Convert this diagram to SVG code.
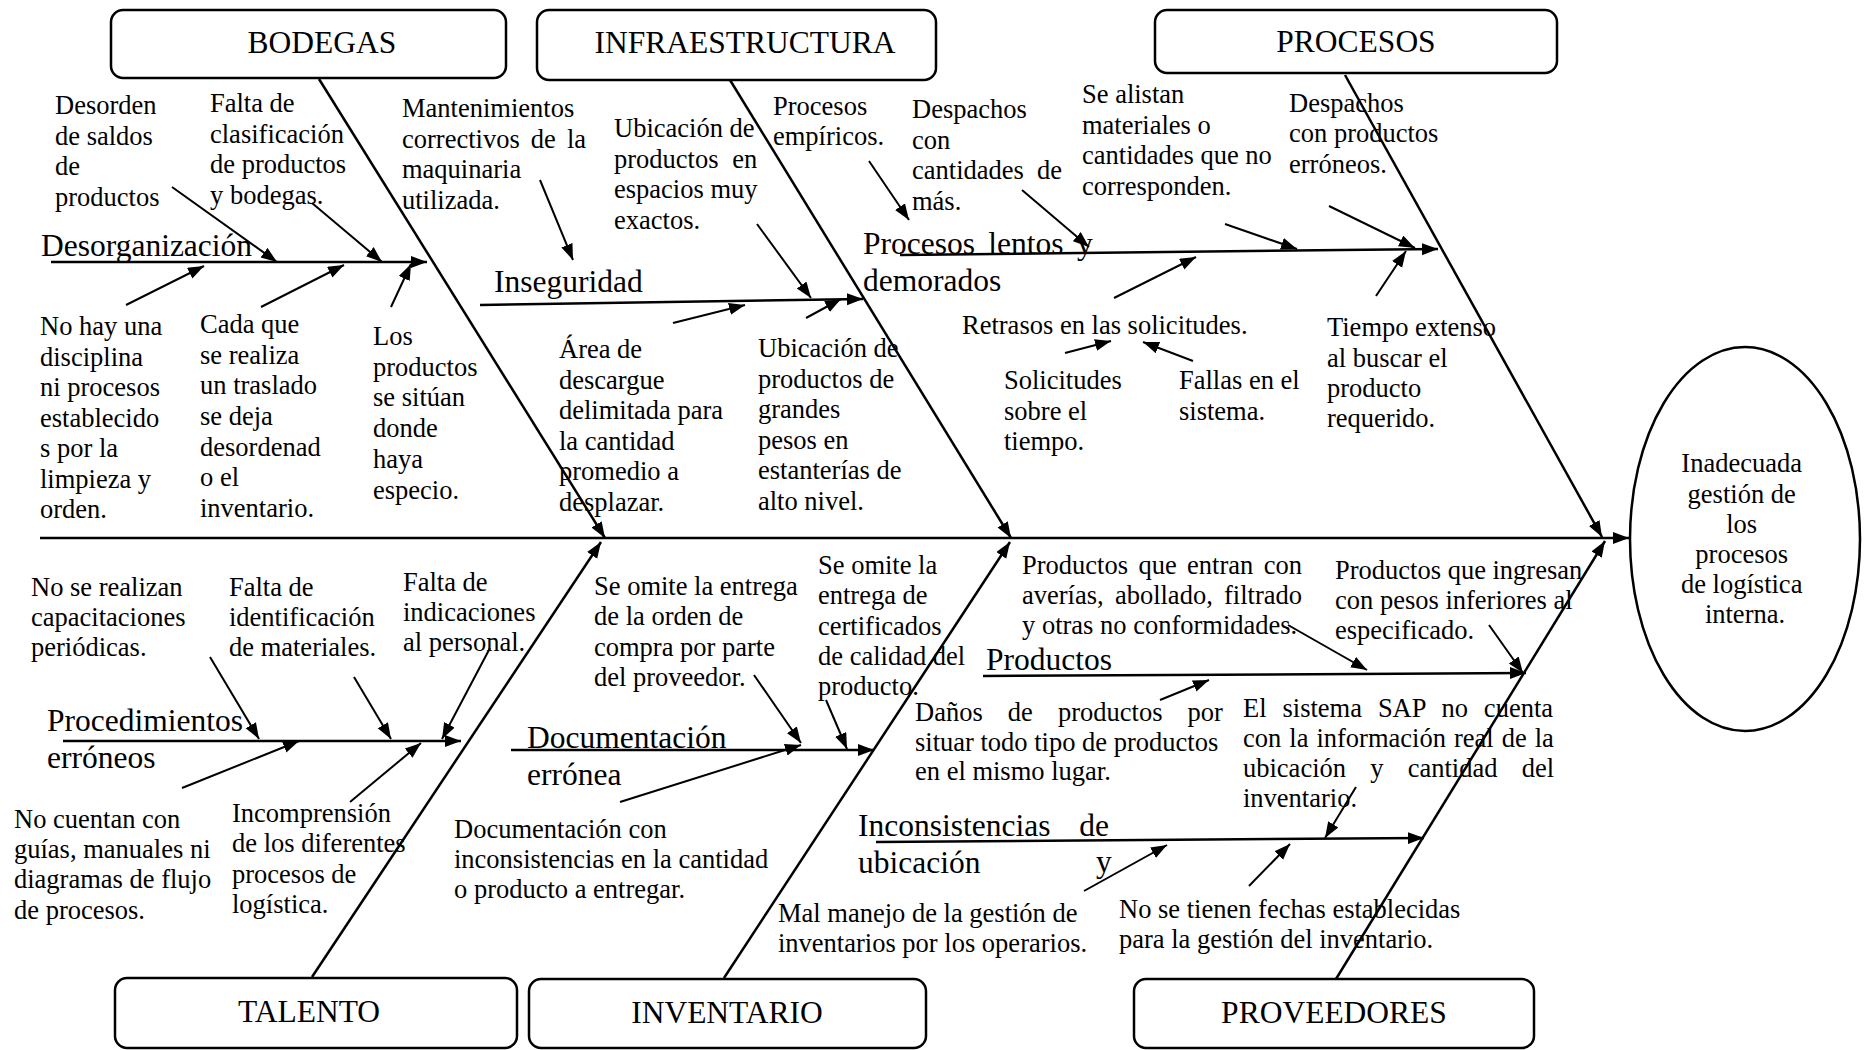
<svg xmlns="http://www.w3.org/2000/svg" width="1867" height="1050" viewBox="0 0 1867 1050">
  <style>
    .box { fill: #fff; stroke: #000; stroke-width: 2.5; }
    .t { font-family: "Liberation Serif", "Times New Roman", serif; font-size: 26.5px; fill: #000; }
    .h { font-size: 31.5px; }
    .c { text-anchor: middle; }
    .bone { stroke: #000; stroke-width: 2.5; fill: none; marker-end: url(#ah); }
    .arr { stroke: #000; stroke-width: 2; fill: none; marker-end: url(#ah); }
  </style>
  <defs>
    <marker id="ah" markerUnits="userSpaceOnUse" markerWidth="17" markerHeight="13" refX="16" refY="6" orient="auto">
      <path d="M0,0 L16,6 L0,12 z" fill="#000"/>
    </marker>
  </defs>
  <rect width="1867" height="1050" fill="#fff"/>

  <!-- category boxes -->
  <g id="bodegas">
    <rect class="box" x="111" y="10" width="395" height="68" rx="12"/>
    <text class="t h c" x="322" y="53">BODEGAS</text>
  </g>
  <g id="infraestructura">
    <rect class="box" x="537" y="10" width="399" height="70" rx="12"/>
    <text class="t h c" x="745" y="53">INFRAESTRUCTURA</text>
  </g>
  <g id="procesos">
    <rect class="box" x="1155" y="10" width="402" height="63" rx="12"/>
    <text class="t h c" x="1356" y="52">PROCESOS</text>
  </g>
  <g id="talento">
    <rect class="box" x="115" y="978" width="402" height="70" rx="12"/>
    <text class="t h c" x="309" y="1022">TALENTO</text>
  </g>
  <g id="inventario">
    <rect class="box" x="529" y="979" width="397" height="69" rx="12"/>
    <text class="t h c" x="727" y="1023">INVENTARIO</text>
  </g>
  <g id="proveedores">
    <rect class="box" x="1134" y="979" width="400" height="69" rx="12"/>
    <text class="t h c" x="1334" y="1023">PROVEEDORES</text>
  </g>

  <!-- effect -->
  <g id="efecto">
    <ellipse class="box" cx="1745" cy="539" rx="115" ry="192"/>
    <text class="t c">
      <tspan x="1745" y="472">Inadecuada</tspan>
      <tspan x="1745" y="503">gestión de</tspan>
      <tspan x="1745" y="533">los</tspan>
      <tspan x="1745" y="563">procesos</tspan>
      <tspan x="1745" y="593">de logística</tspan>
      <tspan x="1745" y="623">interna.</tspan>
    </text>
  </g>

  <!-- connectors: spine, bones, sub-branches and cause arrows -->
  <g id="connectors">
    <line class="bone" x1="40" y1="538" x2="1629" y2="538"/>
    <line class="bone" x1="319" y1="79" x2="605" y2="538"/>
    <line class="bone" x1="730" y1="80" x2="1011" y2="538"/>
    <line class="bone" x1="1345" y1="75" x2="1602" y2="537"/>
    <line class="bone" x1="312" y1="977" x2="601" y2="542"/>
    <line class="bone" x1="724" y1="978" x2="1010" y2="542"/>
    <line class="bone" x1="1336" y1="979" x2="1605" y2="541"/>

    <line class="bone" x1="51" y1="262" x2="427" y2="262"/>
    <line class="bone" x1="480" y1="305" x2="863" y2="299"/>
    <line class="bone" x1="900" y1="255" x2="1438" y2="249"/>
    <line class="bone" x1="63" y1="741" x2="461" y2="741"/>
    <line class="bone" x1="511" y1="750" x2="874" y2="750"/>
    <line class="bone" x1="983" y1="676" x2="1526" y2="673"/>
    <line class="bone" x1="876" y1="842" x2="1424" y2="838"/>

    <line class="arr" x1="172" y1="187" x2="277" y2="262"/>
    <line class="arr" x1="312" y1="203" x2="382" y2="262"/>
    <line class="arr" x1="126" y1="305" x2="204" y2="266"/>
    <line class="arr" x1="261" y1="307" x2="344" y2="265"/>
    <line class="arr" x1="391" y1="307" x2="411" y2="264"/>
    <line class="arr" x1="540" y1="180" x2="573" y2="260"/>

    <line class="arr" x1="757" y1="224" x2="811" y2="298"/>
    <line class="arr" x1="673" y1="323" x2="745" y2="305"/>
    <line class="arr" x1="806" y1="318" x2="841" y2="299"/>

    <line class="arr" x1="869" y1="161" x2="909" y2="220"/>
    <line class="arr" x1="1022" y1="190" x2="1089" y2="247"/>
    <line class="arr" x1="1225" y1="224" x2="1297" y2="249"/>
    <line class="arr" x1="1329" y1="206" x2="1415" y2="248"/>
    <line class="arr" x1="1114" y1="298" x2="1196" y2="257"/>
    <line class="arr" x1="1376" y1="296" x2="1406" y2="251"/>
    <line class="arr" x1="1065" y1="353" x2="1111" y2="341"/>
    <line class="arr" x1="1193" y1="361" x2="1143" y2="342"/>

    <line class="arr" x1="210" y1="657" x2="259" y2="739"/>
    <line class="arr" x1="354" y1="677" x2="391" y2="739"/>
    <line class="arr" x1="490" y1="648" x2="442" y2="739"/>
    <line class="arr" x1="182" y1="788" x2="299" y2="741"/>
    <line class="arr" x1="350" y1="802" x2="421" y2="743"/>

    <line class="arr" x1="754" y1="675" x2="801" y2="743"/>
    <line class="arr" x1="826" y1="700" x2="847" y2="749"/>
    <line class="arr" x1="620" y1="802" x2="801" y2="745"/>

    <line class="arr" x1="1288" y1="625" x2="1367" y2="670"/>
    <line class="arr" x1="1489" y1="625" x2="1523" y2="673"/>
    <line class="arr" x1="1160" y1="700" x2="1209" y2="680"/>

    <line class="arr" x1="1356" y1="787" x2="1325" y2="838"/>
    <line class="arr" x1="1084" y1="891" x2="1167" y2="845"/>
    <line class="arr" x1="1249" y1="886" x2="1290" y2="844"/>
  </g>

  <!-- branch labels -->
  <g id="desorganizacion"><text class="t h" x="41" y="256">Desorganización</text></g>
  <g id="inseguridad"><text class="t h" x="494" y="292">Inseguridad</text></g>
  <g id="procesos-lentos">
    <text class="t h"><tspan x="863" y="254" word-spacing="5.5">Procesos lentos y</tspan><tspan x="863" y="291">demorados</tspan></text>
  </g>
  <g id="procedimientos">
    <text class="t h"><tspan x="47" y="731">Procedimientos</tspan><tspan x="47" y="768">erróneos</tspan></text>
  </g>
  <g id="documentacion">
    <text class="t h"><tspan x="527" y="748">Documentación</tspan><tspan x="527" y="785">errónea</tspan></text>
  </g>
  <g id="productos"><text class="t h" x="986" y="670">Productos</text></g>
  <g id="inconsistencias">
    <text class="t h"><tspan x="858" y="836" word-spacing="21">Inconsistencias de</tspan><tspan x="858" y="873">ubicación</tspan><tspan x="1096" y="872">y</tspan></text>
  </g>

  <!-- causes: BODEGAS -->
  <g id="c-desorden">
    <text class="t"><tspan x="55" y="114">Desorden</tspan><tspan x="55" y="145">de saldos</tspan><tspan x="55" y="175">de</tspan><tspan x="55" y="206">productos</tspan></text>
  </g>
  <g id="c-clasificacion">
    <text class="t"><tspan x="210" y="112">Falta de</tspan><tspan x="210" y="143">clasificación</tspan><tspan x="210" y="173">de productos</tspan><tspan x="210" y="204">y bodegas.</tspan></text>
  </g>
  <g id="c-disciplina">
    <text class="t"><tspan x="40" y="335">No hay una</tspan><tspan x="40" y="366">disciplina</tspan><tspan x="40" y="396">ni procesos</tspan><tspan x="40" y="427">establecido</tspan><tspan x="40" y="457">s por la</tspan><tspan x="40" y="488">limpieza y</tspan><tspan x="40" y="518">orden.</tspan></text>
  </g>
  <g id="c-traslado">
    <text class="t"><tspan x="200" y="333">Cada que</tspan><tspan x="200" y="364">se realiza</tspan><tspan x="200" y="394">un traslado</tspan><tspan x="200" y="425">se deja</tspan><tspan x="200" y="456">desordenad</tspan><tspan x="200" y="486">o el</tspan><tspan x="200" y="517">inventario.</tspan></text>
  </g>
  <g id="c-sitio">
    <text class="t"><tspan x="373" y="345">Los</tspan><tspan x="373" y="376">productos</tspan><tspan x="373" y="406">se sitúan</tspan><tspan x="373" y="437">donde</tspan><tspan x="373" y="468">haya</tspan><tspan x="373" y="499">especio.</tspan></text>
  </g>

  <!-- causes: INFRAESTRUCTURA -->
  <g id="c-mantenimientos">
    <text class="t"><tspan x="402" y="117">Mantenimientos</tspan><tspan x="402" y="148" word-spacing="4.5">correctivos de la</tspan><tspan x="402" y="178">maquinaria</tspan><tspan x="402" y="209">utilizada.</tspan></text>
  </g>
  <g id="c-espacios">
    <text class="t"><tspan x="614" y="137">Ubicación de</tspan><tspan x="614" y="168" word-spacing="7">productos en</tspan><tspan x="614" y="198">espacios muy</tspan><tspan x="614" y="229">exactos.</tspan></text>
  </g>
  <g id="c-descargue">
    <text class="t"><tspan x="559" y="358">Área de</tspan><tspan x="559" y="389">descargue</tspan><tspan x="559" y="419">delimitada para</tspan><tspan x="559" y="450">la cantidad</tspan><tspan x="559" y="480">promedio a</tspan><tspan x="559" y="511">desplazar.</tspan></text>
  </g>
  <g id="c-pesos">
    <text class="t"><tspan x="758" y="357">Ubicación de</tspan><tspan x="758" y="388">productos de</tspan><tspan x="758" y="418">grandes</tspan><tspan x="758" y="449">pesos en</tspan><tspan x="758" y="479">estanterías de</tspan><tspan x="758" y="510">alto nivel.</tspan></text>
  </g>

  <!-- causes: PROCESOS -->
  <g id="c-empiricos">
    <text class="t"><tspan x="773" y="115">Procesos</tspan><tspan x="773" y="145">empíricos.</tspan></text>
  </g>
  <g id="c-despachos-mas">
    <text class="t"><tspan x="912" y="118">Despachos</tspan><tspan x="912" y="149">con</tspan><tspan x="912" y="179" word-spacing="6.5">cantidades de</tspan><tspan x="912" y="210">más.</tspan></text>
  </g>
  <g id="c-alistan">
    <text class="t"><tspan x="1082" y="103">Se alistan</tspan><tspan x="1082" y="134">materiales o</tspan><tspan x="1082" y="164">cantidades que no</tspan><tspan x="1082" y="195">corresponden.</tspan></text>
  </g>
  <g id="c-erroneos">
    <text class="t"><tspan x="1289" y="112">Despachos</tspan><tspan x="1289" y="142">con productos</tspan><tspan x="1289" y="173">erróneos.</tspan></text>
  </g>
  <g id="c-retrasos"><text class="t" x="962" y="334">Retrasos en las solicitudes.</text></g>
  <g id="c-solicitudes">
    <text class="t"><tspan x="1004" y="389">Solicitudes</tspan><tspan x="1004" y="420">sobre el</tspan><tspan x="1004" y="450">tiempo.</tspan></text>
  </g>
  <g id="c-fallas">
    <text class="t"><tspan x="1179" y="389">Fallas en el</tspan><tspan x="1179" y="420">sistema.</tspan></text>
  </g>
  <g id="c-tiempo">
    <text class="t"><tspan x="1327" y="336">Tiempo extenso</tspan><tspan x="1327" y="367">al buscar el</tspan><tspan x="1327" y="397">producto</tspan><tspan x="1327" y="427">requerido.</tspan></text>
  </g>

  <!-- causes: TALENTO -->
  <g id="c-capacitaciones">
    <text class="t"><tspan x="31" y="596">No se realizan</tspan><tspan x="31" y="626">capacitaciones</tspan><tspan x="31" y="656">periódicas.</tspan></text>
  </g>
  <g id="c-identificacion">
    <text class="t"><tspan x="229" y="596">Falta de</tspan><tspan x="229" y="626">identificación</tspan><tspan x="229" y="656">de materiales.</tspan></text>
  </g>
  <g id="c-indicaciones">
    <text class="t"><tspan x="403" y="591">Falta de</tspan><tspan x="403" y="621">indicaciones</tspan><tspan x="403" y="651">al personal.</tspan></text>
  </g>
  <g id="c-guias">
    <text class="t"><tspan x="14" y="828">No cuentan con</tspan><tspan x="14" y="858">guías, manuales ni</tspan><tspan x="14" y="888">diagramas de flujo</tspan><tspan x="14" y="919">de procesos.</tspan></text>
  </g>
  <g id="c-incomprension">
    <text class="t"><tspan x="232" y="822">Incomprensión</tspan><tspan x="232" y="852">de los diferentes</tspan><tspan x="232" y="883">procesos de</tspan><tspan x="232" y="913">logística.</tspan></text>
  </g>

  <!-- causes: INVENTARIO -->
  <g id="c-orden-compra">
    <text class="t"><tspan x="594" y="595">Se omite la entrega</tspan><tspan x="594" y="625">de la orden de</tspan><tspan x="594" y="656">compra por parte</tspan><tspan x="594" y="686">del proveedor.</tspan></text>
  </g>
  <g id="c-certificados">
    <text class="t"><tspan x="818" y="574">Se omite la</tspan><tspan x="818" y="604">entrega de</tspan><tspan x="818" y="635">certificados</tspan><tspan x="818" y="665">de calidad del</tspan><tspan x="818" y="695">producto.</tspan></text>
  </g>
  <g id="c-doc-inconsistente">
    <text class="t"><tspan x="454" y="838">Documentación con</tspan><tspan x="454" y="868">inconsistencias en la cantidad</tspan><tspan x="454" y="898">o producto a entregar.</tspan></text>
  </g>
  <g id="c-mal-manejo">
    <text class="t"><tspan x="778" y="922">Mal manejo de la gestión de</tspan><tspan x="778" y="952">inventarios por los operarios.</tspan></text>
  </g>

  <!-- causes: PROVEEDORES -->
  <g id="c-averias">
    <text class="t"><tspan x="1022" y="574" word-spacing="3.8">Productos que entran con</tspan><tspan x="1022" y="604" word-spacing="4.6">averías, abollado, filtrado</tspan><tspan x="1022" y="634">y otras no conformidades.</tspan></text>
  </g>
  <g id="c-pesos-inferiores">
    <text class="t"><tspan x="1335" y="579">Productos que ingresan</tspan><tspan x="1335" y="609">con pesos inferiores al</tspan><tspan x="1335" y="639">especificado.</tspan></text>
  </g>
  <g id="c-danos">
    <text class="t"><tspan x="915" y="721" word-spacing="18.5">Daños de productos por</tspan><tspan x="915" y="751">situar todo tipo de productos</tspan><tspan x="915" y="780">en el mismo lugar.</tspan></text>
  </g>
  <g id="c-sap">
    <text class="t"><tspan x="1243" y="717" word-spacing="9.3">El sistema SAP no cuenta</tspan><tspan x="1243" y="747" word-spacing="1.4">con la información real de la</tspan><tspan x="1243" y="777" word-spacing="17.6">ubicación y cantidad del</tspan><tspan x="1243" y="807">inventario.</tspan></text>
  </g>
  <g id="c-fechas">
    <text class="t"><tspan x="1119" y="918">No se tienen fechas establecidas</tspan><tspan x="1119" y="948">para la gestión del inventario.</tspan></text>
  </g>
</svg>
